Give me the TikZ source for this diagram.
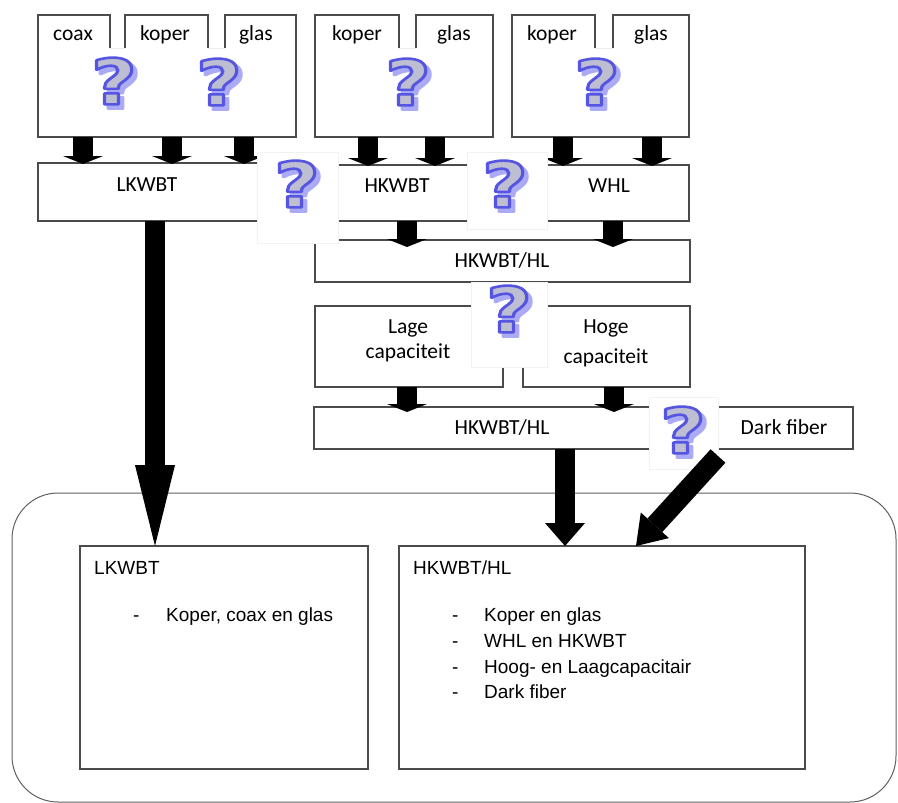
\documentclass[tikz,border=0pt]{standalone}
\usepackage{fontspec}
\usepackage{graphicx}
\setmainfont{Carlito}
\newfontfamily\arialf{Liberation Sans}
\newfontfamily\qmfont{DejaVu Sans}
\usetikzlibrary{arrows.meta,calc}
\definecolor{qmfill}{RGB}{190,190,210}
\definecolor{qmshadow}{RGB}{172,172,246}
\definecolor{lineg}{RGB}{75,75,75}
% glyph with fill + coloured outline (text render mode 2)
\newcommand\qmglyph[2]{\special{pdf:literal direct 2 Tr #2 w 1 j #1 RG}\scalebox{1.25}[1]{?}\special{pdf:literal direct 0 Tr}}
\tikzset{
  boxline/.style={draw=lineg, line width=1.2pt},
  box/.style={boxline, inner sep=0pt, outer sep=0pt, anchor=north west},
  ghost/.style={inner sep=0pt, outer sep=0pt, anchor=north west},
  faint/.style={draw=gray!15, line width=0.8pt},
  qmbg/.style={fill=white, draw=gray!10, line width=0.8pt},
  lbl/.style={anchor=base, inner sep=0pt, font=\fontsize{21.5}{24}\selectfont},
  listtxt/.style={anchor=base west, inner sep=0pt, font=\arialf\fontsize{19}{22}\selectfont},
  qmtext/.style={inner sep=0pt, outer sep=0pt, font=\qmfont\bfseries\fontsize{63}{63}\selectfont},
  blockarrow/.style 2 args={line width=20pt, -{Triangle[width=#1,length=#2,line width=0pt]}},
}
\newcommand\qmicon[3]{%
  \node[qmtext,text=qmshadow] (#1s) at ($(#2,#3)+(4,4)$) {\qmglyph{0.67 0.67 0.96}{3.2}};
  \node[qmtext,text=qmfill] (#1) at (#2,#3) {\qmglyph{0.333 0.333 0.882}{2.6}};
}
\begin{document}
\begin{tikzpicture}[x=1pt,y=-1pt]
\useasboundingbox (0,0) rectangle (898,803);

% outer frame
\node[ghost, draw=gray!75!black, line width=1pt, rounded corners=46pt, minimum width=884pt, minimum height=309pt] (outer) at (12,493) {};

% top groups
\node[ghost, minimum width=258pt, minimum height=122pt] (g1) at (38,15) {};
\node[ghost, minimum width=178pt, minimum height=122pt] (g2) at (315,15) {};
\node[ghost, minimum width=177pt, minimum height=122pt] (g3) at (512,15) {};
\draw[boxline] (110,48) -- (110,15) -- (38,15) -- (38,137) -- (296,137) -- (296,15) -- (225,15) -- (225,48);
\draw[boxline] (125,48) -- (125,15) -- (208,15) -- (208,48);
\draw[faint] (110,48) -- (125,48) (208,48) -- (225,48);
\draw[boxline] (399,48) -- (399,15) -- (315,15) -- (315,137) -- (493,137) -- (493,15) -- (416,15) -- (416,48);
\draw[faint] (399,48) -- (416,48);
\draw[boxline] (595,48) -- (595,15) -- (512,15) -- (512,137) -- (689,137) -- (689,15) -- (613,15) -- (613,48);
\draw[faint] (595,48) -- (613,48);

% boxes
\node[box, minimum width=258pt, minimum height=58pt] (lk) at (38,163) {};
\node[box, minimum width=185pt, minimum height=56pt] (hk) at (315,165) {};
\node[box, minimum width=189pt, minimum height=56pt] (whl) at (500,165) {};
\node[box, minimum width=375pt, minimum height=42pt] (hl1) at (315,240) {};
\node[box, minimum width=188pt, minimum height=81pt] (lage) at (315,306) {};
\node[box, minimum width=167pt, minimum height=81pt] (hoge) at (523,306) {};
\node[box, minimum width=375pt, minimum height=42pt] (hl2) at (314,407) {};
\node[box, minimum width=148pt, minimum height=42pt] (df) at (705,407) {};
\node[box, minimum width=288pt, minimum height=223pt] (blk) at (80,546) {};
\node[box, minimum width=406pt, minimum height=223pt] (bhk) at (399,546) {};

% small block arrows
\draw[blockarrow={40pt}{8pt}] ([xshift=45pt]g1.south west) -- ([xshift=45pt,yshift=-1pt]lk.north west);
\draw[blockarrow={40pt}{8pt}] ([xshift=134pt]g1.south west) -- ([xshift=134pt,yshift=-1pt]lk.north west);
\draw[blockarrow={40pt}{8pt}] ([xshift=206pt]g1.south west) -- ([xshift=206pt,yshift=-1pt]lk.north west);
\draw[blockarrow={40pt}{8pt}] ([xshift=53pt]g2.south west) -- ([xshift=53pt,yshift=-1pt]hk.north west);
\draw[blockarrow={40pt}{8pt}] ([xshift=120pt]g2.south west) -- ([xshift=120pt,yshift=-1pt]hk.north west);
\draw[blockarrow={40pt}{8pt}] ([xshift=51pt]g3.south west) -- ([xshift=63pt,yshift=-1pt]whl.north west);
\draw[blockarrow={40pt}{8pt}] ([xshift=140pt]g3.south west) -- ([xshift=152pt,yshift=-1pt]whl.north west);
\draw[blockarrow={40pt}{8pt}] ([xshift=92pt]hk.south west) -- ([xshift=92pt,yshift=-7pt]hl1.north west);
\draw[blockarrow={40pt}{8pt}] ([xshift=113pt]whl.south west) -- ([xshift=298pt,yshift=-7pt]hl1.north west);
\draw[blockarrow={40pt}{8pt}] ([xshift=92pt]lage.south west) -- ([xshift=93pt,yshift=-5pt]hl2.north west);
\draw[blockarrow={40pt}{8pt}] ([xshift=91pt]hoge.south west) -- ([xshift=300pt,yshift=-5pt]hl2.north west);

% big arrows
\draw[blockarrow={40pt}{81pt}] ([xshift=117pt]lk.south west) -- ([xshift=75pt]blk.north west);
\draw[blockarrow={40pt}{23pt}] ([xshift=251pt]hl2.south west) -- ([xshift=166pt]bhk.north west);

% white backgrounds of the question-mark pictures
\draw[qmbg] (257,152) rectangle (338,243);
\draw[qmbg] (467,152) rectangle (547,229);
\draw[qmbg] (471,282) rectangle (547,367);
\draw[qmbg] (649,397) rectangle (718,469);

% diagonal arrow from Dark fiber
\draw[blockarrow={38pt}{28pt}] ([xshift=13pt,yshift=-7pt]df.south west) -- ([xshift=237pt]bhk.north west);

% question marks
\qmicon{q1}{114}{81}
\qmicon{q2}{219}{82}
\qmicon{q3}{408}{82}
\qmicon{q4}{597}{82}
\qmicon{q5}{297}{184}
\qmicon{q6}{505}{184}
\qmicon{q7}{509}{309}
\qmicon{q8}{683}{430}

% labels top
\node[lbl] (tcoax) at (73,41) {coax};
\node[lbl] (tkoper1) at (165,41) {koper};
\node[lbl] (tglas1) at (256,41) {glas};
\node[lbl] (tkoper2) at (357,41) {koper};
\node[lbl] (tglas2) at (454,41) {glas};
\node[lbl] (tkoper3) at (552,41) {koper};
\node[lbl] (tglas3) at (651,41) {glas};
\node[lbl] (tlk) at (147,191) {LKWBT};
\node[lbl] (thk) at (397,192) {HKWBT};
\node[lbl] (twhl) at (609,192) {WHL};
\node[lbl] (thl1) at (502,267) {HKWBT/HL};
\node[lbl] (tlage1) at (408,333) {Lage};
\node[lbl] (tlage2) at (408,358) {capaciteit};
\node[lbl] (thoge1) at (606,333) {Hoge};
\node[lbl] (thoge2) at (606,363) {capaciteit};
\node[lbl] (thl2) at (502,434) {HKWBT/HL};
\node[lbl] (tdf) at (784,434) {Dark fiber};

% bottom lists
\node[listtxt] (blkt) at (94,574) {LKWBT};
\node[listtxt] (blkd) at (133,621) {-};
\node[listtxt] (blk1) at (166,621) {Koper, coax en glas};
\node[listtxt] (bhkt) at (413,574) {HKWBT/HL};
\node[listtxt] (bhkd1) at (452,621) {-};
\node[listtxt] (bhk1) at (484,621) {Koper en glas};
\node[listtxt] (bhkd2) at (452,647) {-};
\node[listtxt] (bhk2) at (484,647) {WHL en HKWBT};
\node[listtxt] (bhkd3) at (452,673) {-};
\node[listtxt] (bhk3) at (484,673) {Hoog- en Laagcapacitair};
\node[listtxt] (bhkd4) at (452,698) {-};
\node[listtxt] (bhk4) at (484,698) {Dark fiber};
\end{tikzpicture}
\end{document}
